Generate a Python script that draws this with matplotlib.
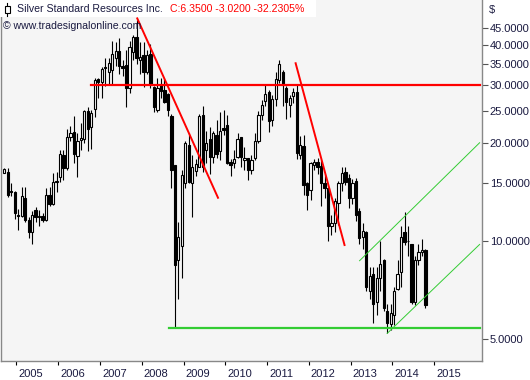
import matplotlib
matplotlib.use('Agg')
import matplotlib.pyplot as plt
import matplotlib.transforms as mtransforms
from matplotlib.patches import Rectangle
from matplotlib.lines import Line2D
from matplotlib.ticker import NullLocator, FormatStrFormatter
import numpy as np

plt.rcParams['font.family'] = ['Liberation Sans', 'DejaVu Sans']

# monthly candles, Sep 2004 .. Oct 2014 (month 0 = Jan 2005)
first_month = -4
opens = [16.2, 16.3, 14.2, 14.1, 12.0, 11.9, 13.5, 11.6, 10.6, 12.4,
         11.8, 11.9, 11.6, 13.8, 13.0, 15.1, 15.7, 18.3, 16.7, 20.9,
         21.6, 18.2, 20.4, 20.6, 25.0, 22.3, 25.4, 31.3, 30.8, 34.2,
         33.0, 33.5, 36.3, 38.3, 34.4, 34.6, 29.4, 38.0, 42.3, 35.9,
         37.1, 33.0, 37.6, 29.6, 25.2, 30.1, 29.0, 28.3, 24.2, 17.1,
         8.7, 9.6, 15.0, 19.7, 15.0, 16.4, 16.9, 24.4, 19.0, 20.6,
         18.1, 21.1, 18.8, 22.2, 22.7, 17.5, 17.3, 18.1, 20.9, 17.7,
         17.9, 16.5, 17.9, 20.2, 24.4, 26.8, 28.6, 23.5, 27.2, 31.2,
         33.0, 29.4, 26.1, 27.9, 28.6, 18.3, 19.5, 15.0, 14.3, 17.1,
         17.5, 17.0, 15.0, 14.5, 11.1, 11.3, 13.1, 15.0, 16.3, 15.6,
         13.5, 15.3, 12.3, 10.3, 10.6, 7.0, 7.9, 6.5, 7.7, 8.7,
         6.1, 5.55, 5.9, 7.1, 8.0, 10.6, 10.0, 9.8, 6.5, 8.7,
         9.2, 9.37]
highs = [16.7, 16.7, 15.0, 14.2, 12.5, 14.6, 14.6, 11.8, 12.3, 12.7,
         12.4, 12.2, 14.5, 14.6, 16.2, 16.3, 19.0, 19.0, 22.1, 22.5,
         24.2, 21.5, 23.0, 25.3, 25.7, 25.3, 31.6, 31.6, 34.2, 36.4,
         36.4, 41.0, 40.9, 42.0, 36.0, 38.5, 41.0, 43.0, 47.5, 40.9,
         40.9, 38.5, 40.3, 29.8, 31.6, 31.6, 31.4, 28.5, 24.5, 17.1,
         11.4, 16.5, 20.3, 21.5, 18.4, 17.8, 24.5, 25.9, 21.7, 22.3,
         21.7, 23.5, 24.9, 25.2, 24.4, 17.8, 19.0, 21.4, 20.9, 19.4,
         18.0, 18.3, 21.5, 25.0, 27.0, 30.1, 29.0, 28.0, 33.0, 35.9,
         33.4, 29.8, 28.0, 29.4, 30.0, 21.0, 21.1, 15.2, 17.5, 17.8,
         18.0, 17.7, 16.0, 14.5, 12.0, 13.5, 15.3, 16.9, 16.9, 16.0,
         15.5, 15.6, 12.6, 11.3, 10.7, 8.3, 8.3, 8.3, 10.0, 8.8,
         6.4, 6.4, 7.2, 8.7, 11.1, 12.25, 11.1, 9.8, 9.0, 9.8,
         10.1, 9.4]
lows = [16.1, 13.6, 13.7, 11.7, 10.8, 11.8, 11.4, 10.2, 9.8, 11.4,
        11.1, 11.4, 11.5, 12.8, 12.9, 14.1, 15.2, 15.4, 16.5, 20.3,
        17.3, 15.7, 19.0, 20.0, 18.8, 19.2, 24.0, 27.4, 27.4, 29.8,
        30.0, 30.0, 34.4, 32.5, 32.0, 25.8, 28.5, 36.0, 35.0, 32.5,
        29.7, 32.5, 29.5, 24.9, 24.9, 27.4, 26.4, 24.2, 14.5, 5.45,
        6.6, 7.7, 14.5, 15.0, 11.8, 15.8, 16.8, 16.3, 17.3, 16.0,
        17.3, 18.0, 17.7, 21.1, 17.2, 15.8, 16.7, 17.9, 16.9, 16.5,
        15.4, 16.0, 17.7, 19.9, 23.5, 26.0, 21.6, 22.5, 26.0, 30.5,
        26.0, 23.7, 24.0, 26.5, 17.8, 17.8, 13.8, 12.4, 13.3, 16.5,
        16.0, 12.8, 13.5, 10.0, 10.4, 10.6, 11.2, 14.2, 14.8, 12.6,
        13.0, 11.5, 9.8, 9.4, 7.0, 6.6, 5.6, 5.9, 7.0, 6.1,
        5.2, 5.3, 5.5, 7.05, 7.2, 9.7, 9.0, 6.4, 6.35, 8.4,
        9.0, 6.2]
closes = [16.6, 13.8, 14.1, 12.2, 11.9, 13.7, 11.6, 10.6, 12.0, 11.8,
          11.9, 11.6, 13.8, 13.0, 15.1, 15.3, 18.5, 16.7, 20.9, 21.5,
          18.5, 20.2, 20.7, 25.0, 22.1, 24.7, 31.2, 30.8, 33.8, 34.0,
          35.1, 37.5, 38.3, 34.4, 34.0, 29.4, 39.5, 42.3, 36.5, 36.7,
          33.0, 37.2, 30.4, 25.8, 29.4, 28.8, 26.7, 25.2, 16.5, 8.4,
          10.3, 15.9, 20.0, 15.2, 16.8, 17.2, 24.1, 16.9, 20.0, 18.1,
          21.4, 18.5, 21.8, 21.9, 17.3, 17.1, 17.8, 20.5, 18.1, 17.9,
          16.5, 17.7, 20.2, 24.4, 26.1, 28.3, 23.4, 27.3, 31.5, 34.8,
          30.1, 26.7, 27.4, 28.6, 18.6, 19.7, 14.8, 13.8, 17.3, 17.5,
          16.9, 15.0, 14.5, 11.1, 11.3, 13.2, 15.0, 16.2, 15.2, 13.5,
          15.0, 12.0, 10.2, 10.7, 7.2, 7.8, 6.4, 7.7, 8.5, 6.2,
          5.6, 6.0, 7.0, 7.9, 10.3, 9.9, 9.95, 6.5, 8.7, 9.2,
          9.35, 6.35]

years = list(range(2005, 2016))
price_ticks = [5, 10, 15, 20, 25, 30, 35, 40, 45]

# drawn lines: (month, price) end points
red_level = 30.0
red_level_from = 20.8
red_trend1 = [(34.2, 48.2), (57.4, 13.55)]
red_trend2 = [(79.7, 35.1), (93.75, 9.7)]
green_level = 5.40
green_level_from = 43.3
channel_low = [(106.0, 5.19), (132.56, 9.74)]
channel_up = [(98.07, 8.68), (132.56, 20.0)]
line_end = 132.6

o = np.array(opens)
h = np.array(highs)
l = np.array(lows)
c = np.array(closes)
x = np.arange(len(c)) + first_month
up = c >= o

W, H = 530, 380
fig = plt.figure(figsize=(W / 100, H / 100), dpi=100)
fig.patch.set_facecolor('white')
ax = fig.add_axes([0.5 / W, 19 / H, 481 / W, 361 / H])
ax.set_facecolor('#f5f5f5')

ax.vlines(x, l, h, color='black', lw=0.8, zorder=3)
ax.bar(x[up], c[up] - o[up], bottom=o[up], width=0.66, color='white',
       edgecolor='black', lw=0.8, zorder=4)
ax.bar(x[~up], o[~up] - c[~up], bottom=c[~up], width=0.66, color='black',
       edgecolor='black', lw=0.8, zorder=4)

red = '#ff0000'
green = '#33cc33'
ax.plot([red_level_from, line_end], [red_level, red_level], color=red, lw=1.6, zorder=5)
for seg in (red_trend1, red_trend2):
    ax.plot([p[0] for p in seg], [p[1] for p in seg], color=red, lw=1.4, zorder=5)
ax.plot([green_level_from, line_end], [green_level, green_level], color=green, lw=1.6, zorder=5)
for seg in (channel_low, channel_up):
    ax.plot([p[0] for p in seg], [p[1] for p in seg], color=green, lw=0.7, zorder=5)

ax.set_yscale('log')
ax.set_ylim(4.27, 54.9)
ax.set_xlim(-5.09, 133.1)

ax.yaxis.tick_right()
ax.set_yticks(price_ticks)
ax.yaxis.set_minor_locator(NullLocator())
ax.yaxis.set_major_formatter(FormatStrFormatter('%.4f'))
ax.tick_params(axis='y', length=4, width=0.8, color='#555555', labelsize=8,
               pad=2, labelcolor='#1a1a40')

ax.set_xticks([12 * (y - 2005) - 0.5 for y in years])
ax.set_xticklabels([str(y) for y in years])
ax.tick_params(axis='x', length=3, width=0.8, color='black', labelsize=8,
               pad=3, labelcolor='#1a1a40')
offset = mtransforms.ScaledTranslation(2 / 100, 0, fig.dpi_scale_trans)
for lab in ax.get_xticklabels():
    lab.set_horizontalalignment('left')
    lab.set_transform(lab.get_transform() + offset)

for side in ('left', 'right', 'bottom'):
    ax.spines[side].set_color('#888888')
    ax.spines[side].set_linewidth(1.0)
ax.spines['top'].set_visible(False)

# header
fig.patches.append(Rectangle((0, 1 - 17 / H), 316 / W, 17 / H, transform=fig.transFigure,
                             facecolor='white', edgecolor='none', zorder=1))
fig.add_artist(Line2D([7 / W, 7 / W], [1 - 3 / H, 1 - 16 / H], color='black', lw=0.8))
fig.patches.append(Rectangle((4.5 / W, 1 - 12.5 / H), 5 / W, 6 / H, transform=fig.transFigure,
                             facecolor='white', edgecolor='black', lw=0.8, zorder=2))
fig.text(17 / W, 1 - 9 / H, 'Silver Standard Resources Inc.', fontsize=7.6,
         va='center', ha='left', color='#1a1a40', zorder=3)
fig.text(170 / W, 1 - 9 / H, 'C:6.3500 -3.0200 -32.2305%', fontsize=7.6,
         va='center', ha='left', color=red, zorder=3)
fig.text(3 / W, 1 - 26 / H, '\u00a9 www.tradesignalonline.com', fontsize=7.6,
         va='center', ha='left', color='#1a1a40', zorder=3)
fig.text(489 / W, 1 - 10 / H, '$', fontsize=8, va='center', ha='left', color='#1a1a40')

fig.savefig('out.png', dpi=100)
